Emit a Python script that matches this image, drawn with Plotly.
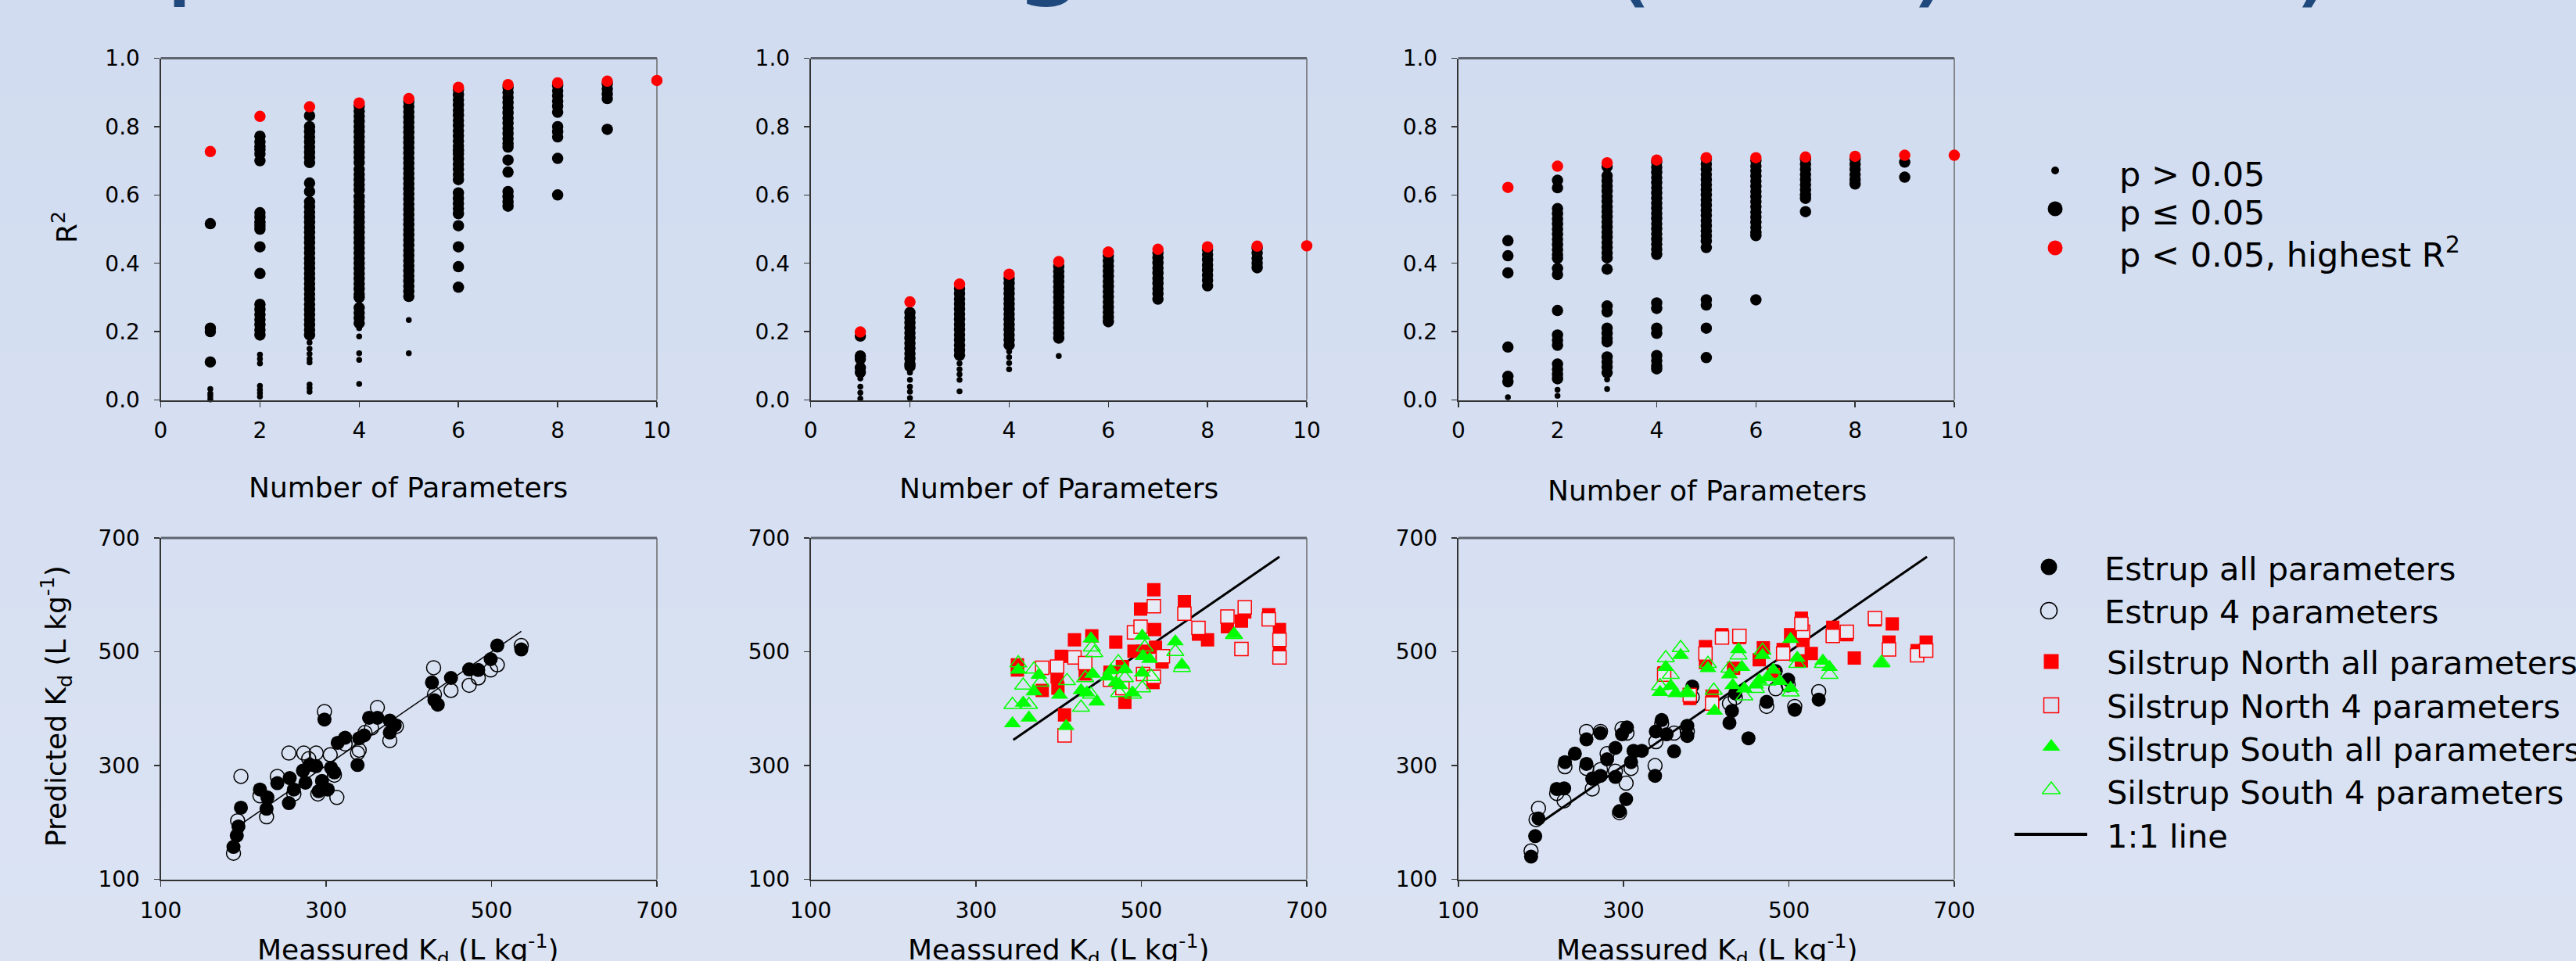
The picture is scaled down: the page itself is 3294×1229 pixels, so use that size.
import plotly.graph_objects as go

W, H = 3294, 1229
FONT = "DejaVu Sans"

# ---------------- Top row: R^2 vs number of parameters ----------------
# keys = number of parameters, values = R^2 of each model
A_small = {1: [0.032, 0.019, 0.011, 0.002],
           2: [0.133, 0.12, 0.107, 0.041, 0.03, 0.02, 0.01],
           3: [0.168, 0.15, 0.135, 0.12, 0.11, 0.045, 0.035, 0.024],
           4: [0.21, 0.186, 0.137, 0.117, 0.047],
           5: [0.234, 0.137]}
A_big = {1: [0.516, 0.21, 0.20, 0.111],
         2: [0.772, 0.755, 0.742, 0.733, 0.72, 0.70, 0.548, 0.535, 0.52, 0.51, 0.50,
             0.448, 0.37, 0.28, 0.265, 0.25, 0.235, 0.22, 0.205, 0.19],
         3: [0.832, 0.80, 0.785, 0.77, 0.755, 0.74, 0.725, 0.71, 0.695, 0.635, 0.61,
             0.58, 0.565, 0.55, 0.535, 0.52, 0.505, 0.49, 0.475, 0.46, 0.445, 0.43,
             0.415, 0.40, 0.385, 0.37, 0.355, 0.34, 0.325, 0.31, 0.295, 0.28, 0.265,
             0.25, 0.235, 0.22, 0.205, 0.19],
         4: [0.86, 0.845, 0.83, 0.815, 0.80, 0.785, 0.77, 0.755, 0.74, 0.725, 0.71,
             0.695, 0.675, 0.66, 0.645, 0.63, 0.615, 0.595, 0.58, 0.565, 0.55, 0.535,
             0.52, 0.505, 0.49, 0.475, 0.46, 0.445, 0.43, 0.415, 0.40, 0.385, 0.37,
             0.355, 0.34, 0.325, 0.31, 0.30, 0.27, 0.255, 0.24, 0.225],
         5: [0.873, 0.858, 0.843, 0.828, 0.813, 0.798, 0.783, 0.768, 0.753, 0.738,
             0.723, 0.708, 0.693, 0.678, 0.663, 0.648, 0.633, 0.618, 0.603, 0.588,
             0.573, 0.558, 0.543, 0.528, 0.513, 0.498, 0.483, 0.468, 0.453, 0.438,
             0.423, 0.408, 0.393, 0.378, 0.363, 0.348, 0.333, 0.318, 0.303],
         6: [0.908, 0.893, 0.878, 0.863, 0.848, 0.833, 0.818, 0.803, 0.788, 0.773,
             0.758, 0.743, 0.73, 0.72, 0.705, 0.69, 0.675, 0.66, 0.645, 0.606, 0.59,
             0.575, 0.56, 0.545, 0.51, 0.448, 0.39, 0.33],
         7: [0.915, 0.90, 0.885, 0.87, 0.855, 0.84, 0.825, 0.81, 0.795, 0.78, 0.765,
             0.75, 0.74, 0.702, 0.667, 0.61, 0.595, 0.58, 0.567],
         8: [0.92, 0.905, 0.89, 0.875, 0.86, 0.842, 0.80, 0.785, 0.77, 0.707, 0.60],
         9: [0.925, 0.91, 0.895, 0.882, 0.792]}
A_best = {1: [0.727], 2: [0.830], 3: [0.858], 4: [0.869], 5: [0.882],
          6: [0.915], 7: [0.923], 8: [0.928], 9: [0.933], 10: [0.935]}

B_small = {1: [0.063, 0.039, 0.021, 0.004],
           2: [0.08, 0.059, 0.039, 0.024, 0.006],
           3: [0.107, 0.09, 0.075, 0.059, 0.025],
           4: [0.142, 0.125, 0.108, 0.09],
           5: [0.129]}
B_big = {1: [0.187, 0.129, 0.12, 0.094, 0.081],
         2: [0.256, 0.241, 0.226, 0.211, 0.196, 0.181, 0.166, 0.151, 0.136, 0.121,
             0.106, 0.098],
         3: [0.326, 0.311, 0.296, 0.281, 0.266, 0.251, 0.236, 0.221, 0.206, 0.191,
             0.176, 0.161, 0.146, 0.131],
         4: [0.356, 0.341, 0.326, 0.311, 0.296, 0.281, 0.266, 0.251, 0.236, 0.221,
             0.206, 0.191, 0.176, 0.161],
         5: [0.391, 0.376, 0.361, 0.346, 0.331, 0.316, 0.301, 0.286, 0.271, 0.256,
             0.241, 0.226, 0.211, 0.196, 0.181],
         6: [0.422, 0.407, 0.392, 0.377, 0.362, 0.347, 0.332, 0.317, 0.302, 0.287,
             0.272, 0.257, 0.242, 0.229],
         7: [0.431, 0.416, 0.401, 0.386, 0.371, 0.356, 0.341, 0.326, 0.311, 0.295],
         8: [0.44, 0.425, 0.41, 0.395, 0.38, 0.365, 0.35, 0.334],
         9: [0.444, 0.43, 0.415, 0.40, 0.387]}
B_best = {1: [0.199], 2: [0.287], 3: [0.339], 4: [0.368], 5: [0.405],
          6: [0.433], 7: [0.441], 8: [0.448], 9: [0.45], 10: [0.451]}

C_small = {1: [0.008], 2: [0.03, 0.012], 3: [0.06, 0.032]}
C_big = {1: [0.466, 0.422, 0.372, 0.155, 0.069, 0.053],
         2: [0.643, 0.621, 0.56, 0.545, 0.53, 0.515, 0.50, 0.485, 0.47, 0.455, 0.44,
             0.425, 0.415, 0.385, 0.367, 0.262, 0.19, 0.175, 0.16, 0.105, 0.09,
             0.075, 0.062],
         3: [0.683, 0.656, 0.641, 0.626, 0.611, 0.596, 0.581, 0.566, 0.551, 0.536,
             0.521, 0.506, 0.491, 0.476, 0.461, 0.446, 0.431, 0.416, 0.383, 0.275,
             0.258, 0.21, 0.195, 0.18, 0.17, 0.126, 0.111, 0.096, 0.08],
         4: [0.696, 0.681, 0.666, 0.651, 0.636, 0.621, 0.606, 0.591, 0.576, 0.561,
             0.546, 0.531, 0.516, 0.501, 0.486, 0.471, 0.456, 0.441, 0.426, 0.284,
             0.268, 0.21, 0.195, 0.13, 0.115, 0.10, 0.091],
         5: [0.705, 0.69, 0.675, 0.66, 0.645, 0.63, 0.615, 0.60, 0.585, 0.57, 0.555,
             0.54, 0.525, 0.51, 0.495, 0.48, 0.465, 0.446, 0.293, 0.278, 0.21, 0.124],
         6: [0.70, 0.685, 0.67, 0.655, 0.64, 0.625, 0.61, 0.595, 0.58, 0.565, 0.55,
             0.535, 0.52, 0.505, 0.49, 0.481, 0.293],
         7: [0.705, 0.69, 0.675, 0.66, 0.645, 0.63, 0.615, 0.60, 0.59, 0.551],
         8: [0.705, 0.69, 0.675, 0.66, 0.645, 0.632],
         9: [0.696, 0.652]}
C_best = {1: [0.622], 2: [0.684], 3: [0.694], 4: [0.702], 5: [0.709],
          6: [0.709], 7: [0.711], 8: [0.713], 9: [0.716], 10: [0.716]}

R2_ticks = [0, 0.2, 0.4, 0.6, 0.8, 1.0]
N_ticks = [0, 2, 4, 6, 8, 10]

# ---------------- Bottom row: predicted vs measured Kd ----------------
D_est_all_x = [188, 192, 194, 197, 220, 229, 228, 241, 255, 256, 261, 272, 275, 280, 288, 291,
               295, 298, 302, 306, 310, 314, 323, 338, 340, 346, 352, 362, 377, 377, 383, 428,
               431, 435, 451, 473, 484, 499, 507, 536]
D_est_all_y = [157, 177, 193, 226, 258, 244, 224, 269, 234, 278, 258, 291, 270, 301, 299, 255,
               273, 381, 258, 296, 288, 340, 349, 301, 348, 353, 384, 384, 379, 358, 371, 446,
               415, 407, 454, 469, 468, 487, 511, 504]
D_est_4_x = [188, 193, 197, 220, 228, 241, 255, 261, 273, 279, 288, 290, 298, 305, 310, 313,
             323, 338, 340, 347, 355, 362, 377, 385, 430, 431, 451, 473, 484, 499, 507, 536]
D_est_4_y = [146, 203, 281, 247, 210, 281, 322, 250, 322, 312, 322, 250, 395, 319, 283, 244,
             338, 322, 327, 358, 366, 402, 344, 369, 472, 425, 432, 441, 454, 468, 477, 511]
D_line = [199, 536]

E_north_all_x = [350, 350, 380, 398, 399, 403, 407, 419, 432, 440, 462, 469, 477, 480, 491, 499,
                 502, 515, 516, 517, 514, 525, 552, 569, 580, 604, 621, 625, 654, 667, 667]
E_north_all_y = [477, 468, 432, 456, 436, 492, 389, 521, 461, 528, 464, 517, 474, 411, 501, 575,
                 501, 609, 539, 508, 446, 482, 588, 531, 521, 544, 554, 570, 565, 539, 500]
E_north_4_x = [380, 398, 407, 419, 432, 462, 477, 491, 499, 502, 515, 515, 526, 552, 569, 604,
               621, 625, 654, 667, 667]
E_north_4_y = [472, 474, 353, 490, 480, 451, 436, 534, 544, 461, 580, 456, 492, 567, 542, 562,
               505, 578, 557, 521, 490]
E_south_all_x = [344, 351, 357, 364, 370, 376, 401, 409, 427, 434, 439, 441, 446, 459, 463, 469,
                 474, 480, 489, 501, 501, 502, 510, 541, 549, 612]
E_south_all_y = [374, 468, 410, 384, 430, 459, 424, 369, 432, 428, 523, 461, 412, 456, 467, 446,
                 441, 469, 428, 528, 463, 492, 487, 518, 477, 531]
E_south_4_x = [344, 351, 357, 364, 370, 378, 410, 427, 432, 439, 440, 443, 472, 473, 480, 490,
               501, 504, 512, 541, 549, 612]
E_south_4_y = [407, 480, 441, 407, 469, 446, 449, 402, 454, 425, 508, 498, 482, 428, 454, 425,
               436, 508, 456, 500, 472, 530]
E_line = [345, 667]

F_est_all_x = [188, 193, 197, 219, 228, 229, 241, 255, 255, 262, 272, 272, 280, 290, 290, 295,
               298, 303, 304, 309, 312, 322, 338, 339, 346, 352, 361, 377, 377, 383, 428, 431,
               435, 451, 473, 484, 499, 507, 536]
F_est_all_y = [140, 176, 207, 259, 260, 306, 321, 303, 346, 277, 357, 282, 311, 331, 280, 220,
               355, 241, 367, 306, 326, 326, 282, 360, 380, 355, 325, 370, 352, 439, 375, 396,
               427, 348, 412, 466, 451, 398, 416]
F_est_4_x = [188, 194, 197, 219, 228, 229, 255, 255, 262, 272, 272, 280, 290, 295, 298, 303,
             304, 309, 338, 339, 346, 361, 377, 383, 428, 435, 473, 484, 499, 507, 536]
F_est_4_y = [150, 205, 225, 251, 238, 298, 360, 295, 259, 360, 293, 321, 290, 217, 365, 269,
             357, 295, 300, 342, 374, 357, 360, 420, 409, 419, 404, 435, 442, 404, 430]
F_north_all_x = [349, 380, 399, 399, 407, 419, 440, 433, 464, 469, 493, 481, 502, 515, 517, 515,
                 527, 553, 570, 579, 604, 621, 625, 655, 666]
F_north_all_y = [463, 418, 509, 481, 422, 530, 525, 471, 486, 507, 504, 460, 530, 559, 520, 484,
                 497, 543, 530, 489, 556, 517, 549, 502, 517]
F_north_4_x = [349, 380, 399, 407, 419, 440, 493, 517, 553, 570, 604, 621, 655, 666, 515]
F_north_4_y = [460, 424, 497, 409, 525, 528, 497, 535, 528, 535, 559, 504, 494, 502, 549]
F_south_all_x = [344, 351, 357, 363, 369, 377, 402, 410, 428, 432, 439, 443, 446, 460, 464, 468,
                 474, 481, 489, 502, 502, 510, 541, 549, 612]
F_south_all_y = [429, 473, 440, 427, 494, 427, 471, 396, 460, 441, 504, 473, 435, 442, 450, 494,
                 455, 468, 448, 522, 436, 489, 484, 473, 479]
F_south_4_x = [344, 351, 357, 369, 377, 402, 409, 428, 439, 446, 460, 468, 474, 481, 502, 510,
               541, 549, 612]
F_south_4_y = [440, 489, 460, 507, 429, 479, 432, 471, 494, 422, 435, 502, 448, 460, 429, 479,
               479, 460, 481]
F_line = [200, 667]

Kd_ticks = [100, 300, 500, 700]

legend_top = ["p > 0.05", "p \u2264 0.05", "p < 0.05, highest R<sup>2</sup>"]
legend_bottom = ["Estrup all parameters", "Estrup 4 parameters", "Silstrup North all parameters",
                 "Silstrup North 4 parameters", "Silstrup South all parameters",
                 "Silstrup South 4 parameters", "1:1 line"]

# ---------------- styling ----------------
BG_TOP = (209, 220, 240)
BG_BOT = (219, 227, 243)
OPEN_FILL = "#E6EBF6"
RED = "#FF0000"
GREEN = "#00FF00"
CIRC, SQ, TRI = 18, 17, 19


def flat(d):
    xs, ys = [], []
    for k, v in d.items():
        xs += [k] * len(v)
        ys += v
    return xs, ys


def px_x(p):
    return p / W


def px_y(p):
    return 1 - p / H


fig = go.Figure()

# top-row scatter
for i, (sm, bg, best) in enumerate([(A_small, A_big, A_best), (B_small, B_big, B_best),
                                     (C_small, C_big, C_best)]):
    ax = "" if i == 0 else str(i + 1)
    for d, size, col in [(sm, 7.5, "black"), (bg, 14.5, "black"), (best, 14.5, RED)]:
        xs, ys = flat(d)
        fig.add_trace(go.Scatter(x=xs, y=ys, mode="markers", xaxis="x" + ax, yaxis="y" + ax,
                                 marker=dict(size=size, color=col, line=dict(width=0)),
                                 cliponaxis=False, showlegend=False, hoverinfo="skip"))


def sc(x, y, ax, symbol, size, color, line_color=None, lw=0):
    fig.add_trace(go.Scatter(x=x, y=y, mode="markers", xaxis="x" + ax, yaxis="y" + ax,
                             marker=dict(symbol=symbol, size=size, color=color,
                                         line=dict(width=lw, color=line_color or color)),
                             cliponaxis=False, showlegend=False, hoverinfo="skip"))


def one_to_one(rng, ax, width):
    fig.add_trace(go.Scatter(x=rng, y=rng, mode="lines", xaxis="x" + ax, yaxis="y" + ax,
                             line=dict(color="black", width=width),
                             showlegend=False, hoverinfo="skip"))


# panel D
one_to_one(D_line, "4", 1.5)
sc(D_est_4_x, D_est_4_y, "4", "circle-open", CIRC, "black", lw=1.5)
sc(D_est_all_x, D_est_all_y, "4", "circle", CIRC, "black")
# panel E
one_to_one(E_line, "5", 3)
sc(E_north_all_x, E_north_all_y, "5", "square", SQ, RED)
sc(E_north_4_x, E_north_4_y, "5", "square", SQ, OPEN_FILL, RED, 1.5)
sc(E_south_all_x, E_south_all_y, "5", "triangle-up", TRI, GREEN)
sc(E_south_4_x, E_south_4_y, "5", "triangle-up-open", TRI, GREEN, lw=1.5)
# panel F
one_to_one(F_line, "6", 3)
sc(F_est_4_x, F_est_4_y, "6", "circle-open", CIRC, "black", lw=1.5)
sc(F_est_all_x, F_est_all_y, "6", "circle", CIRC, "black")
sc(F_north_all_x, F_north_all_y, "6", "square", SQ, RED)
sc(F_north_4_x, F_north_4_y, "6", "square", SQ, OPEN_FILL, RED, 1.5)
sc(F_south_all_x, F_south_all_y, "6", "triangle-up", TRI, GREEN)
sc(F_south_4_x, F_south_4_y, "6", "triangle-up-open", TRI, GREEN, lw=1.5)

# ---------------- legend glyphs on a pixel-coordinate overlay axis ----------------
LG1_X = 2628
LG1_Y = [218, 267, 317]
sc([LG1_X], [LG1_Y[0]], "7", "circle", 10, "black")
sc([LG1_X], [LG1_Y[1]], "7", "circle", 19, "black")
sc([LG1_X], [LG1_Y[2]], "7", "circle", 19, RED)

LG2_Y = [725, 781, 846, 902, 955, 1010, 1067]
sc([2620], [LG2_Y[0]], "7", "circle", 21, "black")
sc([2620], [LG2_Y[1]], "7", "circle-open", 21, "black", lw=1.5)
sc([2623], [LG2_Y[2]], "7", "square", 19, RED)
sc([2623], [LG2_Y[3]], "7", "square", 19, "rgba(0,0,0,0)", RED, 1.5)
sc([2623], [LG2_Y[4]], "7", "triangle-up", 20, GREEN)
sc([2623], [LG2_Y[5]], "7", "triangle-up-open", 20, GREEN, lw=1.5)
fig.add_trace(go.Scatter(x=[2576, 2669], y=[LG2_Y[6], LG2_Y[6]], mode="lines", xaxis="x7",
                         yaxis="y7", line=dict(color="black", width=4), showlegend=False,
                         hoverinfo="skip"))

# ---------------- axes ----------------
XDOM = [(205.5, 840), (1036.7, 1671), (1864.8, 2499)]
TOP = (511.5, 74.5)
BOT = (1124.6, 688)

base_axis = dict(showline=True, linecolor="#333333", linewidth=2, ticks="outside", ticklen=7,
                 tickwidth=1.5, tickcolor="#333333", showgrid=False, zeroline=False,
                 automargin=False,
                 tickfont=dict(family=FONT, size=28, color="black"), fixedrange=True)

layout = dict(width=W, height=H, margin=dict(l=0, r=0, t=0, b=0, pad=0, autoexpand=False),
              paper_bgcolor="rgb(%d,%d,%d)" % BG_TOP, plot_bgcolor="rgba(0,0,0,0)",
              showlegend=False, font=dict(family=FONT, color="black"))

for i in range(6):
    n = i + 1
    sx = "" if n == 1 else str(n)
    xd = XDOM[i % 3]
    yd = TOP if i < 3 else BOT
    xa = dict(base_axis, domain=[px_x(xd[0]), px_x(xd[1])], anchor="y" + sx)
    ya = dict(base_axis, domain=[px_y(yd[0]), px_y(yd[1])], anchor="x" + sx)
    if i < 3:
        xa.update(range=[0, 10], tickvals=N_ticks, ticklabelstandoff=6)
        ya.update(range=[0, 1], tickvals=R2_ticks, tickformat=".1f", ticklabelstandoff=12)
    else:
        xa.update(range=[100, 700], tickvals=Kd_ticks, ticklabelstandoff=7)
        ya.update(range=[100, 700], tickvals=Kd_ticks, ticklabelstandoff=12)
    layout["xaxis" + sx] = xa
    layout["yaxis" + sx] = ya

layout["xaxis7"] = dict(domain=[0, 1], range=[0, W], visible=False, anchor="y7",
                        fixedrange=True, automargin=False)
layout["yaxis7"] = dict(domain=[0, 1], range=[H, 0], visible=False, anchor="x7",
                        fixedrange=True, automargin=False)

# ---------------- background gradient + frames ----------------
shapes = []
NB = 30
for b in range(NB):
    t = b / (NB - 1)
    c = tuple(round(BG_TOP[k] + (BG_BOT[k] - BG_TOP[k]) * t) for k in range(3))
    shapes.append(dict(type="rect", xref="paper", yref="paper", x0=0, x1=1,
                       y0=1 - (b + 1) / NB - 0.001, y1=1 - b / NB, layer="below",
                       line=dict(width=0), fillcolor="rgb(%d,%d,%d)" % c))
for i in range(6):
    n = i + 1
    sx = "" if n == 1 else str(n)
    shapes.append(dict(type="line", xref="x%s domain" % sx, yref="y%s domain" % sx,
                       x0=0, x1=1, y0=1, y1=1, layer="below",
                       line=dict(color="#5f6470", width=3)))
    shapes.append(dict(type="line", xref="x%s domain" % sx, yref="y%s domain" % sx,
                       x0=1, x1=1, y0=0, y1=1, layer="below",
                       line=dict(color="#6a6a6a", width=1.5)))
layout["shapes"] = shapes


# ---------------- text ----------------
def ann(text, x, y, size, xanchor="center", yanchor="middle", angle=0, color="black",
        family=FONT):
    return dict(text=text, x=x, y=y, xref="x7", yref="y7", showarrow=False,
                font=dict(family=family, size=size, color=color), xanchor=xanchor,
                yanchor=yanchor, textangle=angle)


anns = []
TS = 36
for cx, cy in [(522, 623), (1354, 624), (2183, 627)]:
    anns.append(ann("Number of Parameters", cx, cy, TS))
for cx in [522, 1354, 2183]:
    anns.append(ann("Meassured K<sub>d</sub> (L kg<sup>-1</sup>)", cx, 1215, TS))
anns.append(ann("R<sup>2</sup>", 83, 291, TS, angle=-90))
anns.append(ann("Predicted K<sub>d</sub> (L kg<sup>-1</sup>)", 72, 903, TS, angle=-90))

for txt, yy in zip(legend_top, [223, 272, 323]):
    anns.append(ann(txt, 2708, yy, 43, xanchor="left"))
for txt, xx, yy in zip(legend_bottom, [2689, 2689, 2692, 2692, 2692, 2692, 2692],
                       [727, 782, 847, 903, 958, 1013, 1069]):
    anns.append(ann(txt, xx, yy, 41.5, xanchor="left"))

# clipped slide title (only the lowest strokes are visible at the top edge)
TITLE_C = "#1F487C"
for g, xx, yb, xa_ in [("p", 207, 15, "left"), ("g", 1342, 15, "center"),
                       ("(", 2054, 27, "left"), (")", 2440, 27, "left"),
                       (")", 2930, 27, "left")]:
    anns.append(ann(g, xx, yb, 150, xanchor=xa_, yanchor="bottom", color=TITLE_C))
layout["annotations"] = anns

fig.update_layout(**layout)
fig.write_html("out.html", config={"displayModeBar": False, "staticPlot": True},
               post_script="document.body.style.margin='0';")
